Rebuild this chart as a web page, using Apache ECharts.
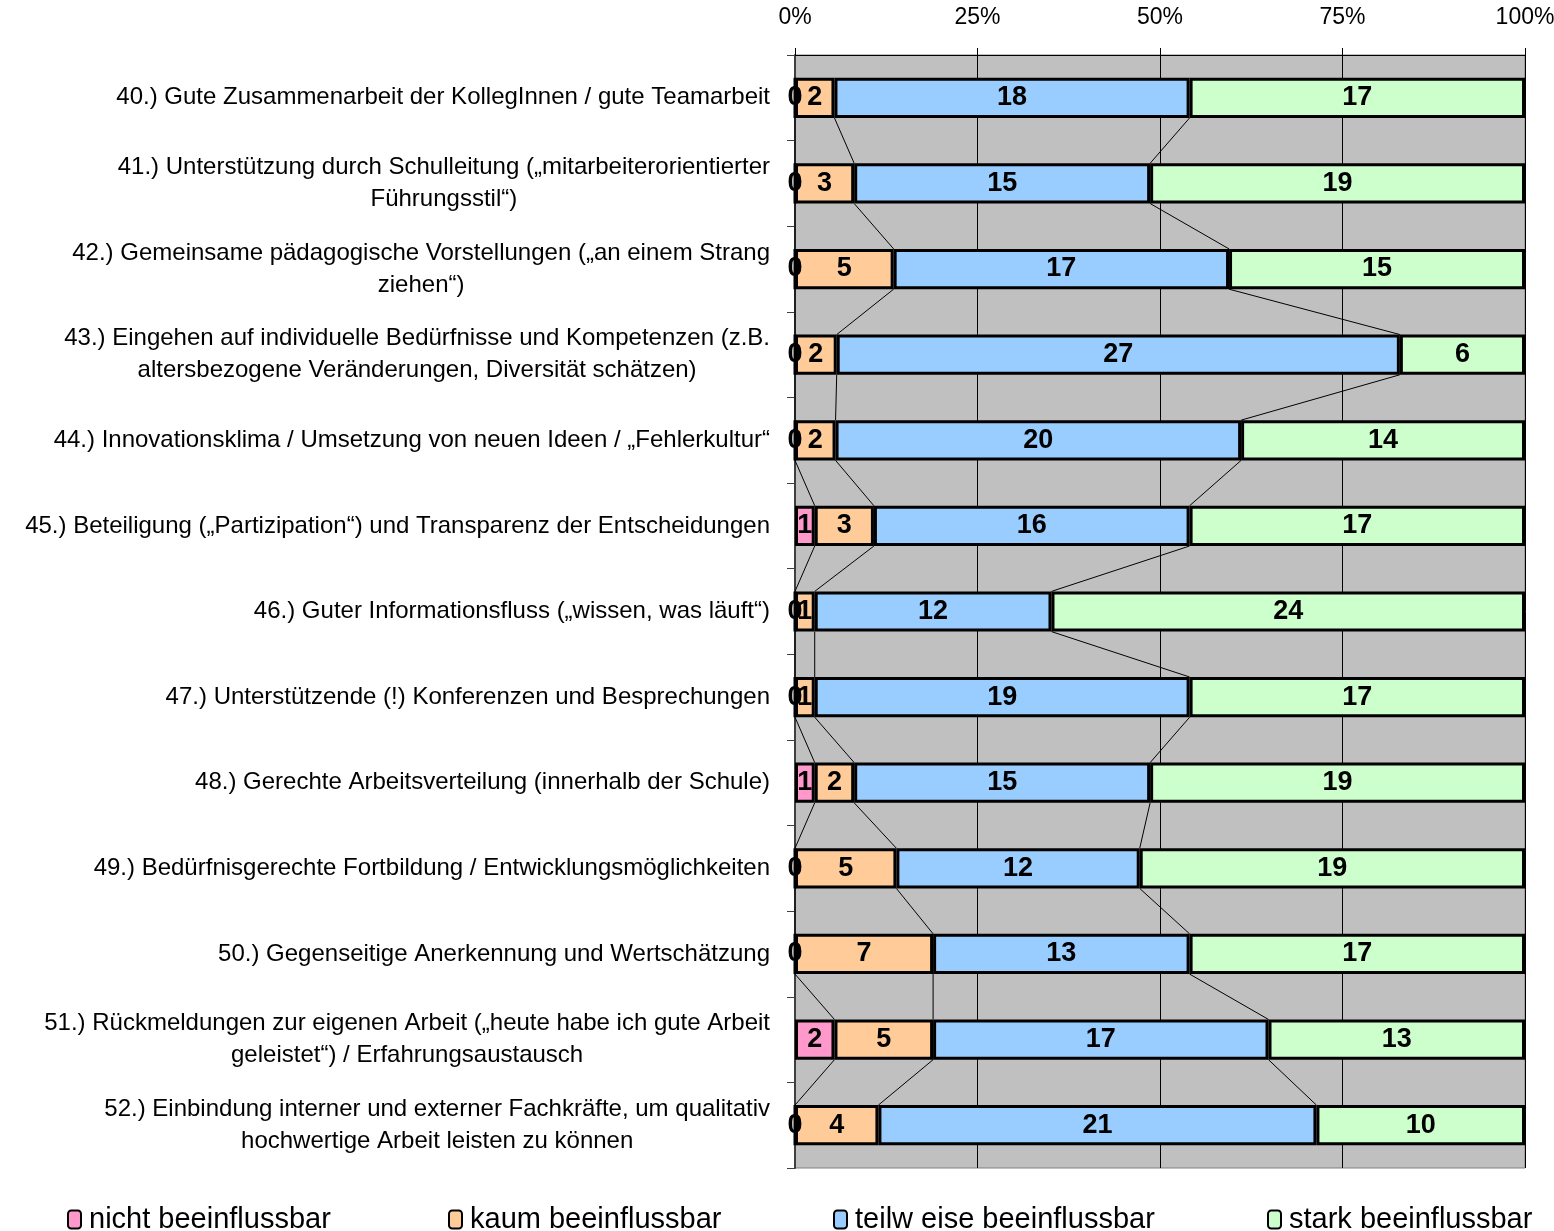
<!DOCTYPE html>
<html>
<head>
<meta charset="utf-8">
<script src="https://cdn.jsdelivr.net/npm/echarts@6/dist/echarts.min.js"></script>
<style>
  html, body { margin: 0; padding: 0; background: #fff; overflow: hidden; }
  #chart { width: 1554px; height: 1231px; }
</style>
</head>
<body>
<div id="chart"></div>
<script>
// Survey items (top to bottom)
const categories = [
  '40.) Gute Zusammenarbeit der KollegInnen / gute Teamarbeit',
  '41.) Unterstützung durch Schulleitung („mitarbeiterorientierter\nFührungsstil“)',
  '42.) Gemeinsame pädagogische Vorstellungen („an einem Strang\nziehen“)',
  '43.) Eingehen auf individuelle Bedürfnisse und Kompetenzen (z.B.\naltersbezogene Veränderungen, Diversität schätzen)',
  '44.) Innovationsklima / Umsetzung von neuen Ideen / „Fehlerkultur“',
  '45.) Beteiligung („Partizipation“) und Transparenz der Entscheidungen',
  '46.) Guter Informationsfluss („wissen, was läuft“)',
  '47.) Unterstützende (!) Konferenzen und Besprechungen',
  '48.) Gerechte Arbeitsverteilung (innerhalb der Schule)',
  '49.) Bedürfnisgerechte Fortbildung / Entwicklungsmöglichkeiten',
  '50.) Gegenseitige Anerkennung und Wertschätzung',
  '51.) Rückmeldungen zur eigenen Arbeit („heute habe ich gute Arbeit\ngeleistet“) / Erfahrungsaustausch',
  '52.) Einbindung interner und externer Fachkräfte, um qualitativ\nhochwertige Arbeit leisten zu können'
];

// Answer counts per item
const seriesNames = ['nicht beeinflussbar', 'kaum beeinflussbar', 'teilw eise beeinflussbar', 'stark beeinflussbar'];
const nicht  = [0, 0, 0, 0, 0, 1, 0, 0, 1, 0, 0, 2, 0];
const kaum   = [2, 3, 5, 2, 2, 3, 1, 1, 2, 5, 7, 5, 4];
const teilw  = [18, 15, 17, 27, 20, 16, 12, 19, 15, 12, 13, 17, 21];
const stark  = [17, 19, 15, 6, 14, 17, 24, 17, 19, 19, 17, 13, 10];
const xTickLabels = ['0%', '25%', '50%', '75%', '100%'];

const colors = ['#FF99CC', '#FFCC99', '#99CCFF', '#CCFFCC'];
const counts = [nicht, kaum, teilw, stark];
const totals = categories.map((_, i) => counts.reduce((s, arr) => s + arr[i], 0));
const pct = counts.map(arr => arr.map((v, i) => v / totals[i] * 100));

// cumulative share at the end of series k for item i
function cumEnd(k, i) {
  let s = 0;
  for (let j = 0; j <= k; j++) s += pct[j][i];
  return s;
}

const BAR_RATIO = 0.47;
const FONT = 'Liberation Sans, Arial, sans-serif';

const barSeries = seriesNames.map((name, k) => ({
  name,
  type: 'bar',
  stack: 'total',
  barWidth: (BAR_RATIO * 100) + '%',
  data: pct[k],
  itemStyle: { color: colors[k], borderColor: '#000', borderWidth: 3 },
  label: {
    show: true,
    position: 'inside',
    color: '#000',
    fontFamily: FONT,
    fontWeight: 'bold',
    fontSize: 27,
    formatter: p => String(counts[k][p.dataIndex])
  },
  emphasis: { disabled: true },
  z: 3
}));

// Series lines joining the segment ends of neighbouring bars
const connectorSeries = {
  type: 'custom',
  silent: true,
  z: 2,
  data: categories.slice(0, -1).map((_, i) => i),
  encode: { x: -1, y: 0 },
  renderItem: function (params, api) {
    const i = api.value(0);
    const band = api.size([0, 1])[1];
    const half = band * BAR_RATIO / 2;
    const children = [];
    for (let k = 0; k < 3; k++) {
      const a = api.coord([cumEnd(k, i), i]);
      const b = api.coord([cumEnd(k, i + 1), i + 1]);
      children.push({
        type: 'line',
        shape: { x1: a[0], y1: a[1] + half, x2: b[0], y2: b[1] - half },
        style: { stroke: '#000', lineWidth: 1 }
      });
    }
    return { type: 'group', children };
  }
};

const legendPos = [62, 443, 828, 1262];
const legends = seriesNames.map((name, k) => ({
  data: [name],
  left: legendPos[k],
  top: 1200,
  itemWidth: 13,
  itemHeight: 18,
  itemGap: 6,
  selectedMode: false,
  itemStyle: { borderColor: '#000', borderWidth: 2 },
  textStyle: { fontFamily: FONT, fontSize: 29, color: '#000', padding: [0, 0, 0, 3] }
}));

const chart = echarts.init(document.getElementById('chart'), null, { renderer: 'canvas' });
chart.setOption({
  animation: false,
  backgroundColor: '#fff',
  grid: {
    left: 795, right: 29, top: 55, bottom: 63,
    outerBoundsMode: 'none',
    containLabel: false,
    show: true, backgroundColor: '#C0C0C0', borderColor: '#808080', borderWidth: 1
  },
  legend: legends,
  xAxis: {
    type: 'value',
    position: 'top',
    min: 0, max: 100, interval: 25,
    axisLine: { show: true, lineStyle: { color: '#000', width: 1 } },
    axisTick: { show: true, length: 7, lineStyle: { color: '#000' } },
    splitLine: { show: true, lineStyle: { color: '#000', width: 1 } },
    axisLabel: {
      margin: 26,
      color: '#000', fontFamily: FONT, fontSize: 23,
      formatter: v => xTickLabels[Math.round(v / 25)]
    }
  },
  yAxis: {
    type: 'category',
    inverse: true,
    data: categories,
    axisLine: { show: true, lineStyle: { color: '#404040', width: 2 } },
    axisTick: { show: true, length: 8, inside: false, lineStyle: { color: '#404040', width: 1 } },
    axisLabel: {
      margin: 25,
      align: 'right',
      color: '#000',
      fontFamily: FONT,
      fontSize: 24,
      lineHeight: 32,
      formatter: v => v.split('\n').map(l => '{c|' + l + '}').join('\n'),
      rich: { c: { align: 'center', fontFamily: FONT, fontSize: 24, lineHeight: 32, color: '#000' } }
    }
  },
  series: [...barSeries, connectorSeries]
});
</script>
</body>
</html>
